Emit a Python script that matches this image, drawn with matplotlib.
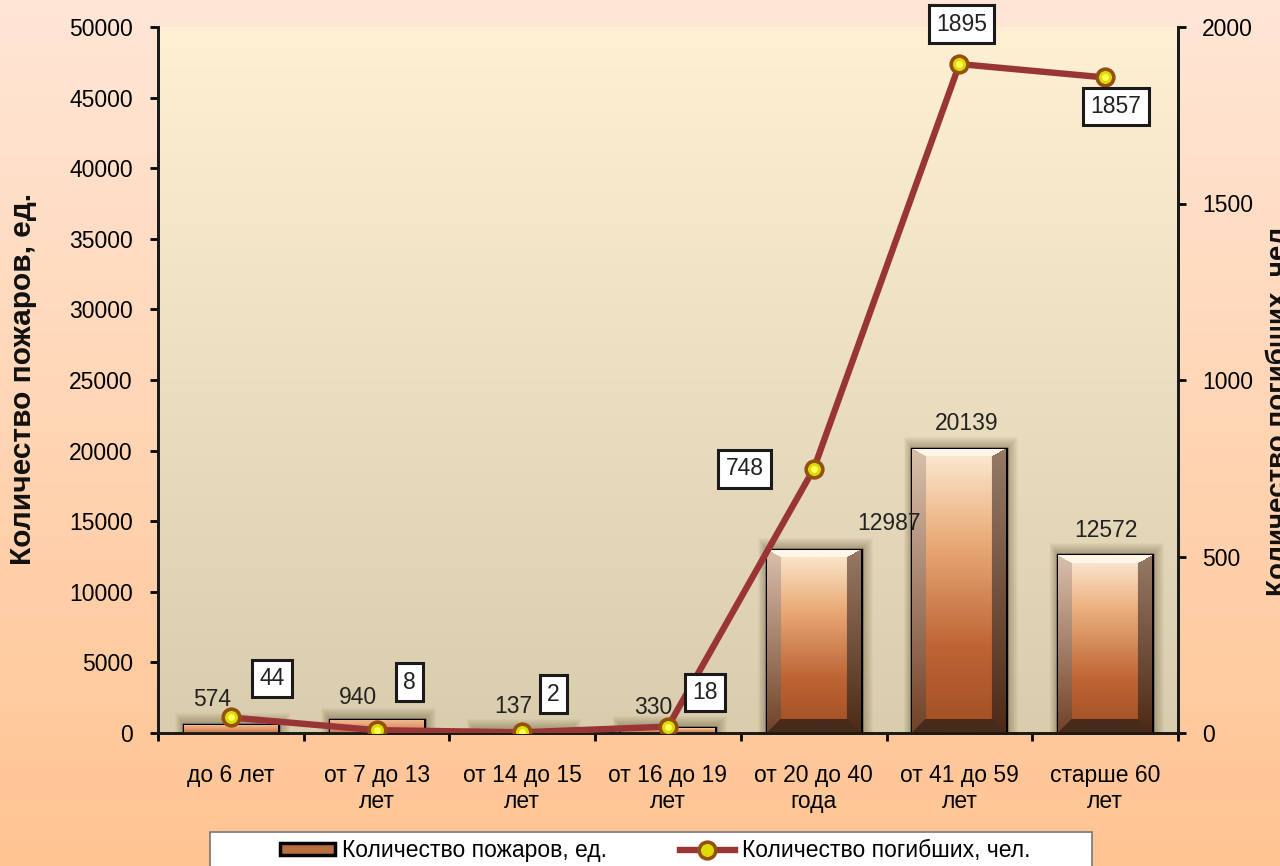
import numpy as np
import matplotlib
matplotlib.use("Agg")
import matplotlib.pyplot as plt
from matplotlib.lines import Line2D
from matplotlib.patches import Rectangle

plt.rcParams['font.family'] = ['Liberation Sans', 'DejaVu Sans']
fs = 16.5

categories = ["до 6 лет", "от 7 до 13\nлет", "от 14 до 15\nлет", "от 16 до 19\nлет",
              "от 20 до 40\nгода", "от 41 до 59\nлет", "старше 60\nлет"]
fires = [574, 940, 137, 330, 12987, 20139, 12572]
deaths = [44, 8, 2, 18, 748, 1895, 1857]
left_ticks = list(range(0, 50001, 5000))
right_ticks = [0, 500, 1000, 1500, 2000]

# label offsets in pixels (layout only)
fire_off = [(-19, 14), (-19, 11), (-9, 13), (-15, 9), (75, 15), (7, 14), (1, 13)]
death_off = [(41, 39), (33, 48), (31, 38), (37, 34), (-69, 0), (2, 40), (11, -29)]

W, H = 1280, 866
fig = plt.figure(figsize=(W / 100, H / 100), dpi=100)

# figure background gradient
bg = fig.add_axes([0, 0, 1, 1], zorder=-10)
top_c = np.array([255, 230, 214]) / 255
bot_c = np.array([255, 196, 146]) / 255
t = np.linspace(0, 1, 256)[:, None, None]
bg.imshow(top_c * (1 - t) + bot_c * t, aspect='auto', extent=(0, 1, 0, 1))
bg.set_axis_off()

ax = fig.add_axes([158 / W, 1 - 733 / H, (1178 - 158) / W, (733 - 27) / H])
ax2 = ax.twinx()

n = len(categories)
x = np.arange(n)
ax.set_xlim(-0.5, n - 0.5)
ax.set_ylim(0, 50000)
ax2.set_ylim(0, 2000)

# plot area gradient
pa_top = np.array([255, 240, 212]) / 255
pa_bot = np.array([217, 205, 173]) / 255
ax.imshow(pa_top * (1 - t) + pa_bot * t, aspect='auto', extent=(0, 1, 0, 1),
          transform=ax.transAxes, zorder=0)

bars = ax.bar(x, fires, width=0.645, color='#C8804F', edgecolor='black',
              linewidth=2.5, zorder=3, label='Количество пожаров, ед.')


def interp(stops, tt):
    pos = [s[0] for s in stops]
    cols = np.array([s[1] for s in stops], dtype=float) / 255
    return np.stack([np.interp(tt, pos, cols[:, k]) for k in range(3)], axis=-1)


def bevel_image(wpx, hpx):
    wpx, hpx = max(int(wpx), 2), max(int(hpx), 2)
    yy, xx = np.mgrid[0:hpx, 0:wpx]
    tv = yy / max(hpx - 1, 1)
    if hpx < 30:
        return interp([(0, (245, 190, 150)), (1, (205, 120, 75))], tv)
    face = interp([(0, (252, 236, 214)), (0.3, (236, 176, 126)),
                   (0.7, (190, 100, 52)), (1, (160, 78, 36))], tv)
    b, bt = 14, 8
    lft = interp([(0, (218, 192, 172)), (1, (112, 66, 40))], tv)
    rgt = interp([(0, (150, 122, 102)), (1, (78, 42, 22))], tv)
    topc = np.array([255, 246, 232]) / 255
    botc = np.array([72, 42, 26]) / 255
    img = face.copy()
    dl, dr = xx, wpx - 1 - xx
    dt, db = yy * b / bt, hpx - 1 - yy
    m = np.minimum(np.minimum(dl, dr), np.minimum(dt, db))
    inband = m < b
    img[inband & (m == dl)] = lft[inband & (m == dl)]
    img[inband & (m == dr)] = rgt[inband & (m == dr)]
    img[inband & (m == dt)] = topc
    img[inband & (m == db)] = botc
    return img


fig.canvas.draw()
px_per_y = ax.transData.transform((0, 1000))[1] - ax.transData.transform((0, 0))[1]
px_per_x = ax.transData.transform((1, 0))[0] - ax.transData.transform((0, 0))[0]
for rect in bars:
    x0, y0 = rect.get_x(), rect.get_y()
    bw, bh = rect.get_width(), rect.get_height()
    p0 = ax.transData.transform((x0, y0))
    p1 = ax.transData.transform((x0 + bw, y0 + bh))
    # soft shadow
    for g in range(12, 0, -1):
        gx, gy = g / px_per_x, g * 1000 / px_per_y
        ax.add_patch(Rectangle((x0 - gx * 0.7, y0), bw + gx * 1.7, bh + gy,
                               facecolor='#4a3a18', edgecolor='none', alpha=0.035,
                               zorder=2))
    img = bevel_image(p1[0] - p0[0], p1[1] - p0[1])
    im = ax.imshow(img, aspect='auto', extent=(x0, x0 + bw, y0, y0 + bh), zorder=3.5)
    im.set_clip_path(rect)

ax.set_xlim(-0.5, n - 0.5)
ax.set_ylim(0, 50000)

for i, v in enumerate(fires):
    ax.annotate(str(v), (x[i], v), xytext=fire_off[i], textcoords='offset pixels',
                ha='center', va='bottom', fontsize=fs, color='#222222', zorder=6)

line, = ax2.plot(x, deaths, color='#993535', linewidth=4.6, marker='o',
                 markersize=12, markerfacecolor='#DCDC00', markeredgecolor='#94500E',
                 markeredgewidth=2.6, zorder=5, label='Количество погибших, чел.')
ax2.plot(x, deaths, linestyle='none', marker='o', markersize=5,
         markerfacecolor='#FFFF55', markeredgecolor='none', zorder=6)

for i, v in enumerate(deaths):
    ax2.annotate(str(v), (x[i], v), xytext=death_off[i], textcoords='offset pixels',
                 ha='center', va='center', fontsize=fs, color='#222222', zorder=7,
                 bbox=dict(boxstyle='square,pad=0.32', facecolor='white',
                           edgecolor='#1a1a1a', linewidth=2.2))

# axes styling
ax.set_xticks(np.arange(n + 1) - 0.5)
ax.set_xticklabels([])
ax.set_xticks(x, minor=True)
ax.set_xticklabels(categories, minor=True, fontsize=fs, linespacing=1.2)
ax.tick_params(axis='x', which='major', length=6, width=2, direction='out')
ax.tick_params(axis='x', which='minor', length=0, pad=22)
ax.set_yticks(left_ticks)
ax.set_yticklabels([str(v) for v in left_ticks], fontsize=fs)
ax.tick_params(axis='y', length=6, width=2, direction='out', pad=12)
ax2.set_yticks(right_ticks)
ax2.set_yticklabels([str(v) for v in right_ticks], fontsize=fs)
ax2.tick_params(axis='y', length=6, width=2, direction='out', pad=11.5)
for a in (ax, ax2):
    a.spines['top'].set_visible(False)
    for s in ('left', 'right', 'bottom'):
        a.spines[s].set_linewidth(2)
        a.spines[s].set_color('#1a1a1a')

lab = dict(rotation=90, fontweight='bold', ha='center', va='center', color='#111111')
fig.text(23 / W, 1 - 379 / H, 'Количество пожаров, ед.', fontsize=21.5, **lab)
fig.text(1278 / W, 1 - 408 / H, 'Количество погибших, чел.', fontsize=20, **lab)

# legend
fig.patches.append(Rectangle((210 / W, -0.02), (1092 - 210) / W, 0.02 + (866 - 832) / H,
                             transform=fig.transFigure, facecolor='white',
                             edgecolor='#777777', linewidth=1.2, zorder=1))
leg_bar = Rectangle((0, 0), 1, 1, facecolor='#B8703F', edgecolor='black', linewidth=2.5)
leg_line = Line2D([], [], color='#993535', linewidth=4.6, marker='o', markersize=12,
                  markerfacecolor='#DCDC00', markeredgecolor='#94500E', markeredgewidth=2.6)
fig.legend([leg_bar, leg_line], ['Количество пожаров, ед.', 'Количество погибших, чел.'],
           loc='center', bbox_to_anchor=(655 / W, 1 - 851 / H), ncol=2, frameon=False,
           fontsize=fs, handlelength=2.4, handleheight=0.45, handletextpad=0.3,
           columnspacing=3.2)

fig.savefig('out.png', dpi=100)
